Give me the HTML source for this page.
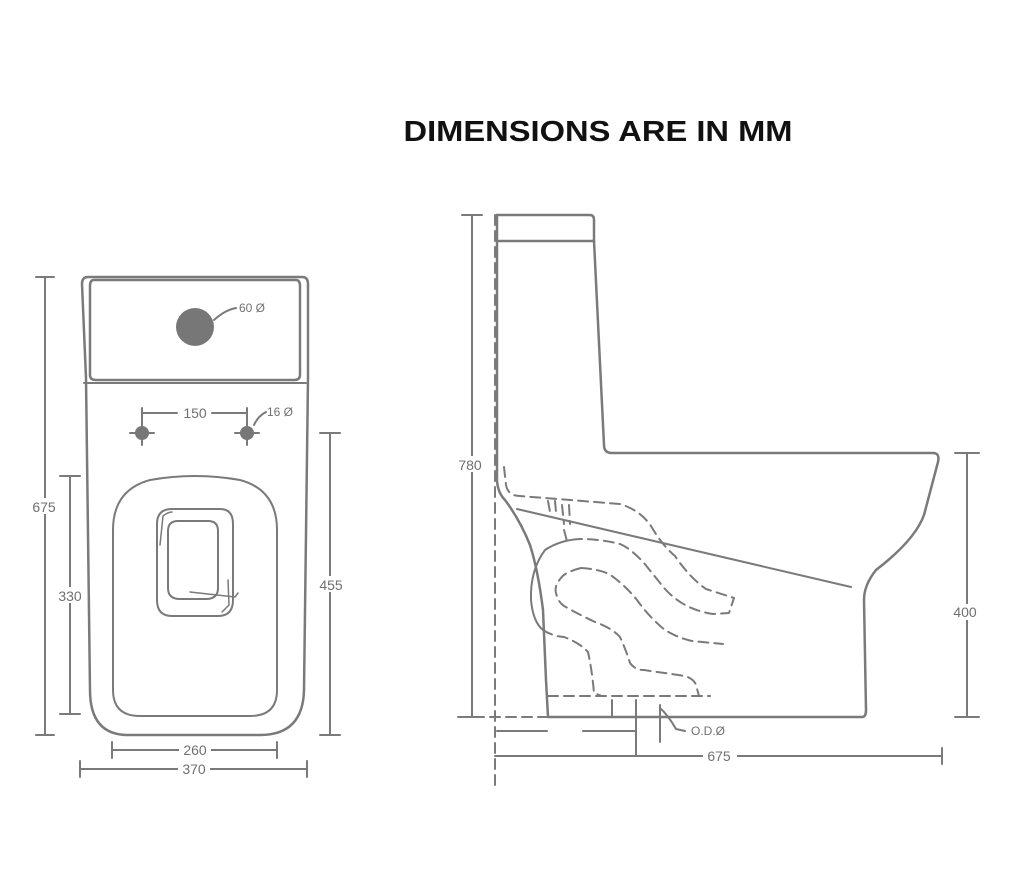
<!DOCTYPE html>
<html><head><meta charset="utf-8"><style>
html,body{margin:0;padding:0;background:#fff;}
svg{display:block;}
text{font-family:"Liberation Sans",sans-serif;fill:#707070;}
</style></head><body>
<svg width="1033" height="869" viewBox="0 0 1033 869" xmlns="http://www.w3.org/2000/svg">
<text x="598" y="141" text-anchor="middle" font-size="29" font-weight="bold" style="fill:#111" textLength="389" lengthAdjust="spacingAndGlyphs">DIMENSIONS ARE IN MM</text>

<g fill="none" stroke="#7a7a7a" stroke-width="2.5" stroke-linecap="round" stroke-linejoin="round">
<!-- FRONT VIEW -->
<path d="M88,277 L302,277 Q308,277 308,284 L308,378 L304,690 Q303,735 260,735 L128,735 Q90,735 90,690 L86,378 L82,284 Q82,277 88,277 Z"/>
<path d="M94,280 L296,280 Q300,280 300,286 L300,375 Q300,380 294,380 L96,380 Q90,380 90,375 L90,286 Q90,280 94,280 Z"/>
<path d="M84,383 L306,383" stroke-width="2"/>
<path d="M113,530 Q113,490 150,480 Q195,472 240,480 Q277,490 277,530 L277,690 Q277,716 250,716 L140,716 Q113,716 113,690 Z" stroke-width="2"/>
<path d="M172,509 L220,509 Q233,509 233,524 L233,600 Q233,616 218,616 L172,616 Q157,616 157,600 L157,524 Q157,509 172,509 Z" stroke-width="2"/>
<path d="M178,521 L208,521 Q218,521 218,531 L218,588 Q218,599 206,599 L180,599 Q168,599 168,588 L168,531 Q168,521 178,521 Z" stroke-width="2"/>
<path d="M160,545 L163,516 Q168,512 172,512" stroke-width="1.5"/>
<path d="M228,580 L229,605 L222,612" stroke-width="1.5"/>
<path d="M190,592 L235,597 L238,593" stroke-width="1.5"/>
<!-- dims front -->
<g stroke-width="2">
<path d="M45,277 L45,735 M36,277 L54,277 M36,735 L54,735"/>
<path d="M70,476 L70,714 M60,476 L80,476 M60,714 L80,714"/>
<path d="M330,433 L330,735 M320,433 L340,433 M320,735 L340,735"/>
<path d="M112,750 L277,750 M112,742 L112,758 M277,742 L277,758"/>
<path d="M80,769 L307,769 M80,761 L80,777 M307,761 L307,777"/>
<path d="M142,408 L142,420 M247,408 L247,420 M142,413 L177,413 M212,413 L247,413"/>
<path d="M130,433 L154,433 M142,421 L142,445 M235,433 L259,433 M247,421 L247,445"/>
<path d="M214,320 Q225,310 236,308 M254,425 Q258,416 266,412"/>
</g>
<!-- SIDE VIEW -->
<path d="M497,215 L590,215 Q594,215 594,220 L594,241"/>
<path d="M497,215 L497,481 Q498,493 505,500 Q520,520 530,545 Q538,570 543,610 L546,680 L548,717 L862,717 Q866,717 866,710 L864,600 Q864,585 876,570 Q915,540 924,515 L938,462 Q940,453 933,453 L612,453 Q604,453 604,445 L594,241 L497,241"/>
<path d="M517,509 L851,587" stroke-width="2"/>
<path d="M580,539 Q560,540 545,550 Q530,570 531,600 Q533,622 543,630" stroke-width="2"/>
<g stroke-dasharray="10,6" stroke-width="2">
<path d="M495,215 L495,790"/>
<path d="M504,467 L506,485 Q508,496 520,496 L620,504 Q640,510 651,526 Q662,545 675,556 Q690,578 706,589 L734,598 L729,613 L713,614 Q700,612 689,607 Q675,600 665,589 Q652,573 644,563 Q630,548 620,544 Q600,539 581,539"/>
<path d="M543,630 Q552,636 564,637 Q580,643 588,652 Q592,670 594,693 L602,696"/>
<path d="M581,568 Q565,572 561,578 Q554,586 556,593 Q558,602 564,606 Q580,615 595,622 Q612,628 620,637 Q626,650 630,663 Q635,670 644,670 L685,676 Q694,679 696,685 L699,696"/>
<path d="M581,568 Q598,569 609,574 Q625,585 637,600 Q650,618 665,630 Q678,638 692,641 L723,644"/>
<path d="M548,696 L710,696"/>
<path d="M548,501 L550,512 M555,501 L556,512 M562,505 L564,524 M569,505 L570,524 M564,530 L568,545"/>
<path d="M458,717 L548,717"/>
</g>
<!-- side dims -->
<g stroke-width="2">
<path d="M472,215 L472,717 M462,215 L482,215 M462,717 L482,717"/>
<path d="M967,453 L967,717 M955,453 L979,453 M955,717 L979,717"/>
<path d="M495,756 L942,756 M942,748 L942,764"/>
<path d="M497,731 L547,731 M583,731 L636,731 M636,700 L636,755 M612,700 L612,717 M660,705 L660,742 M660,708 Q668,715 676,729 L685,731"/>
</g>
</g>
<circle cx="195" cy="327" r="19" fill="#777"/>
<circle cx="142" cy="433" r="7" fill="#777"/>
<circle cx="247" cy="433" r="7" fill="#777"/>
<g font-size="14" text-anchor="middle">
<rect x="30" y="498" width="28" height="16" fill="#fff"/><text x="44" y="512">675</text>
<rect x="56" y="587" width="30" height="16" fill="#fff"/><text x="70" y="601">330</text>
<rect x="316" y="576" width="30" height="16" fill="#fff"/><text x="331" y="590">455</text>
<rect x="179" y="742" width="32" height="16" fill="#fff"/><text x="195" y="755">260</text>
<rect x="178" y="761" width="32" height="16" fill="#fff"/><text x="194" y="774">370</text>
<text x="195" y="418">150</text>
<text x="252" y="312" font-size="12">60 Ø</text>
<text x="280" y="416" font-size="12">16 Ø</text>
<rect x="456" y="456" width="30" height="16" fill="#fff"/><text x="470" y="470">780</text>
<rect x="950" y="604" width="32" height="16" fill="#fff"/><text x="965" y="617">400</text>
<rect x="703" y="748" width="34" height="16" fill="#fff"/><text x="719" y="761">675</text>
<text x="708" y="735" font-size="12">O.D.Ø</text>
</g>
</svg>
</body></html>
